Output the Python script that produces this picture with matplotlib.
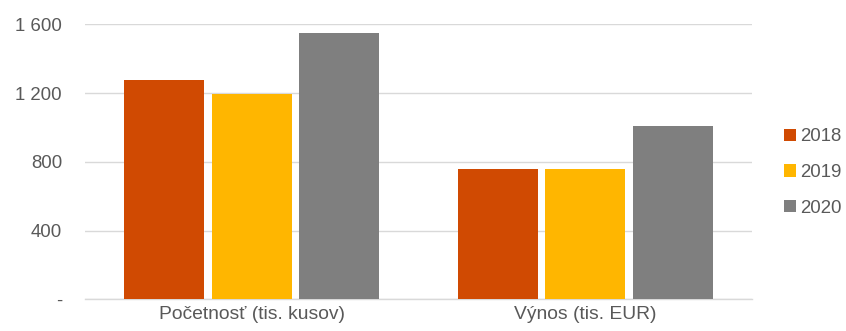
import matplotlib
matplotlib.use("Agg")
import matplotlib.pyplot as plt
from matplotlib.patches import Patch
from matplotlib.ticker import FuncFormatter, MultipleLocator
import numpy as np

plt.rcParams['font.family'] = ['Liberation Sans', 'DejaVu Sans']

categories = ["Početnosť (tis. kusov)", "Výnos (tis. EUR)"]
years = ["2018", "2019", "2020"]
values_2018 = [1275, 760]
values_2019 = [1195, 760]
values_2020 = [1550, 1010]
series = [values_2018, values_2019, values_2020]
colors = ["#D04A02", "#FFB600", "#7F7F7F"]

text_color = "#595959"
grid_color = "#D9D9D9"
fs = 13.4

fig = plt.figure(figsize=(8.46, 3.31), dpi=100)
ax = fig.add_axes([85 / 846, 1 - 299.3 / 331, (752 - 85) / 846, (299.3 - 24.3) / 331])

x = np.arange(len(categories))
step = 0.262
width = 0.24
for i, (vals, col) in enumerate(zip(series, colors)):
    ax.bar(x + (i - 1) * step, vals, width=width, color=col, zorder=3)

ax.set_xlim(-0.5, 1.5)
ax.set_ylim(0, 1600)
ax.yaxis.set_major_locator(MultipleLocator(400))


def fmt(v, pos):
    if abs(v) < 1e-9:
        return "-"
    return f"{int(round(v)):,}".replace(",", " ")


ax.yaxis.set_major_formatter(FuncFormatter(fmt))
ax.set_xticks(x)
ax.set_xticklabels(categories, fontsize=13.9)
ax.tick_params(axis='both', length=0, labelsize=fs, colors=text_color)
ax.tick_params(axis='x', labelsize=13.9)
ax.tick_params(axis='y', pad=16.5)
ax.tick_params(axis='x', pad=5)

ax.grid(axis='y', color=grid_color, linewidth=1.0, zorder=0)
for s in ['top', 'right', 'left']:
    ax.spines[s].set_visible(False)
ax.spines['bottom'].set_color(grid_color)
ax.spines['bottom'].set_linewidth(1.0)

handles = [Patch(facecolor=c, edgecolor='none') for c in colors]
fig.legend(handles, years, loc='center left',
           bbox_to_anchor=(784 / 846, 1 - 172.5 / 331),
           frameon=False, fontsize=fs, labelcolor=text_color,
           handlelength=0.65, handleheight=0.65, handletextpad=0.2,
           labelspacing=1.0, borderpad=0, borderaxespad=0)

fig.savefig("out.png", dpi=100)
